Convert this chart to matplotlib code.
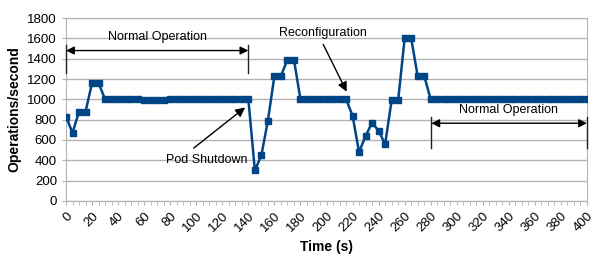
import matplotlib
matplotlib.use('Agg')
import matplotlib.pyplot as plt
from matplotlib.ticker import MultipleLocator

# time in seconds, one sample every 5 s
time_s = list(range(0, 405, 5))
ops = [830, 670, 880, 880, 1160, 1160,
       1000, 1000, 1000, 1000, 1000, 1000, 997, 997, 994, 997,
       1003, 1005, 1005, 1000, 1000, 1000, 1000, 1000, 1000, 1000,
       1000, 1000, 1000,
       300, 450, 790, 1230, 1230, 1390, 1390,
       1000, 1000, 1000, 1000, 1000, 1000, 1000, 1000,
       840, 480, 640, 770, 690, 560, 990, 990, 1600, 1600, 1230, 1230,
       1000, 1000, 1000, 1000, 1000, 1000, 1000, 1000, 1000, 1000,
       1000, 1000, 1000, 1000, 1000, 1000, 1000, 1000, 1000, 1000,
       1000, 1000, 1000, 1000, 1000]
x_ticks = list(range(0, 401, 20))
y_ticks = list(range(0, 1801, 200))

plt.rcParams['font.family'] = ['Liberation Sans', 'DejaVu Sans']

fig = plt.figure(figsize=(5.98, 2.66), dpi=100)
ax = fig.add_axes([0.1104, 0.2444, 0.8712, 0.6879])

ax.plot(time_s, ops, color='#004586', linewidth=1.8, marker='s',
        markersize=4, zorder=3)

ax.set_xlim(0, 400)
ax.set_ylim(0, 1800)
ax.set_xticks(x_ticks)
ax.set_yticks(y_ticks)
ax.xaxis.set_minor_locator(MultipleLocator(5))
ax.tick_params(axis='x', which='both', direction='out', colors='#b3b3b3',
               labelcolor='black', labelsize=9.5, labelrotation=45, length=3)
ax.tick_params(axis='y', direction='out', colors='#b3b3b3',
               labelcolor='black', labelsize=9.5, length=3)
for lbl in ax.get_xticklabels():
    lbl.set_ha('right')
    lbl.set_va('top')
    lbl.set_rotation_mode('anchor')

ax.grid(axis='y', color='#b3b3b3', linewidth=1)
ax.set_axisbelow(True)
for s in ax.spines.values():
    s.set_color('#b3b3b3')

ax.set_xlabel('Time (s)', fontsize=10, fontweight='bold', labelpad=4)
ax.set_ylabel('Operations/second', fontsize=10, fontweight='bold', labelpad=4)

# annotations
arrow = dict(arrowstyle='<|-|>', color='black', lw=1, mutation_scale=12,
             shrinkA=0, shrinkB=0)
bar = dict(color='#222222', lw=1, clip_on=False, zorder=4)
ax.annotate('', xy=(0, 1480), xytext=(140, 1480), arrowprops=arrow)
ax.plot([0, 0], [1260, 1530], **bar)
ax.plot([140, 140], [1260, 1530], **bar)
ax.text(70, 1610, 'Normal Operation', ha='center', va='center', fontsize=9)

ax.annotate('', xy=(280.5, 765), xytext=(400, 765), arrowprops=arrow,
            annotation_clip=False)
ax.plot([280.5, 280.5], [520, 830], **bar)
ax.plot([400, 400], [520, 830], **bar)
ax.text(340, 895, 'Normal Operation', ha='center', va='center', fontsize=9)

one = dict(arrowstyle='-|>', color='black', lw=1, mutation_scale=14,
           shrinkA=0, shrinkB=0)
ax.annotate('', xy=(137.5, 920), xytext=(98, 520), arrowprops=one)
ax.text(108, 400, 'Pod Shutdown', ha='center', va='center', fontsize=9)

ax.annotate('', xy=(215.5, 1075), xytext=(197.5, 1540), arrowprops=one)
ax.text(197, 1650, 'Reconfiguration', ha='center', va='center', fontsize=9)

fig.savefig('out.png', dpi=100)
